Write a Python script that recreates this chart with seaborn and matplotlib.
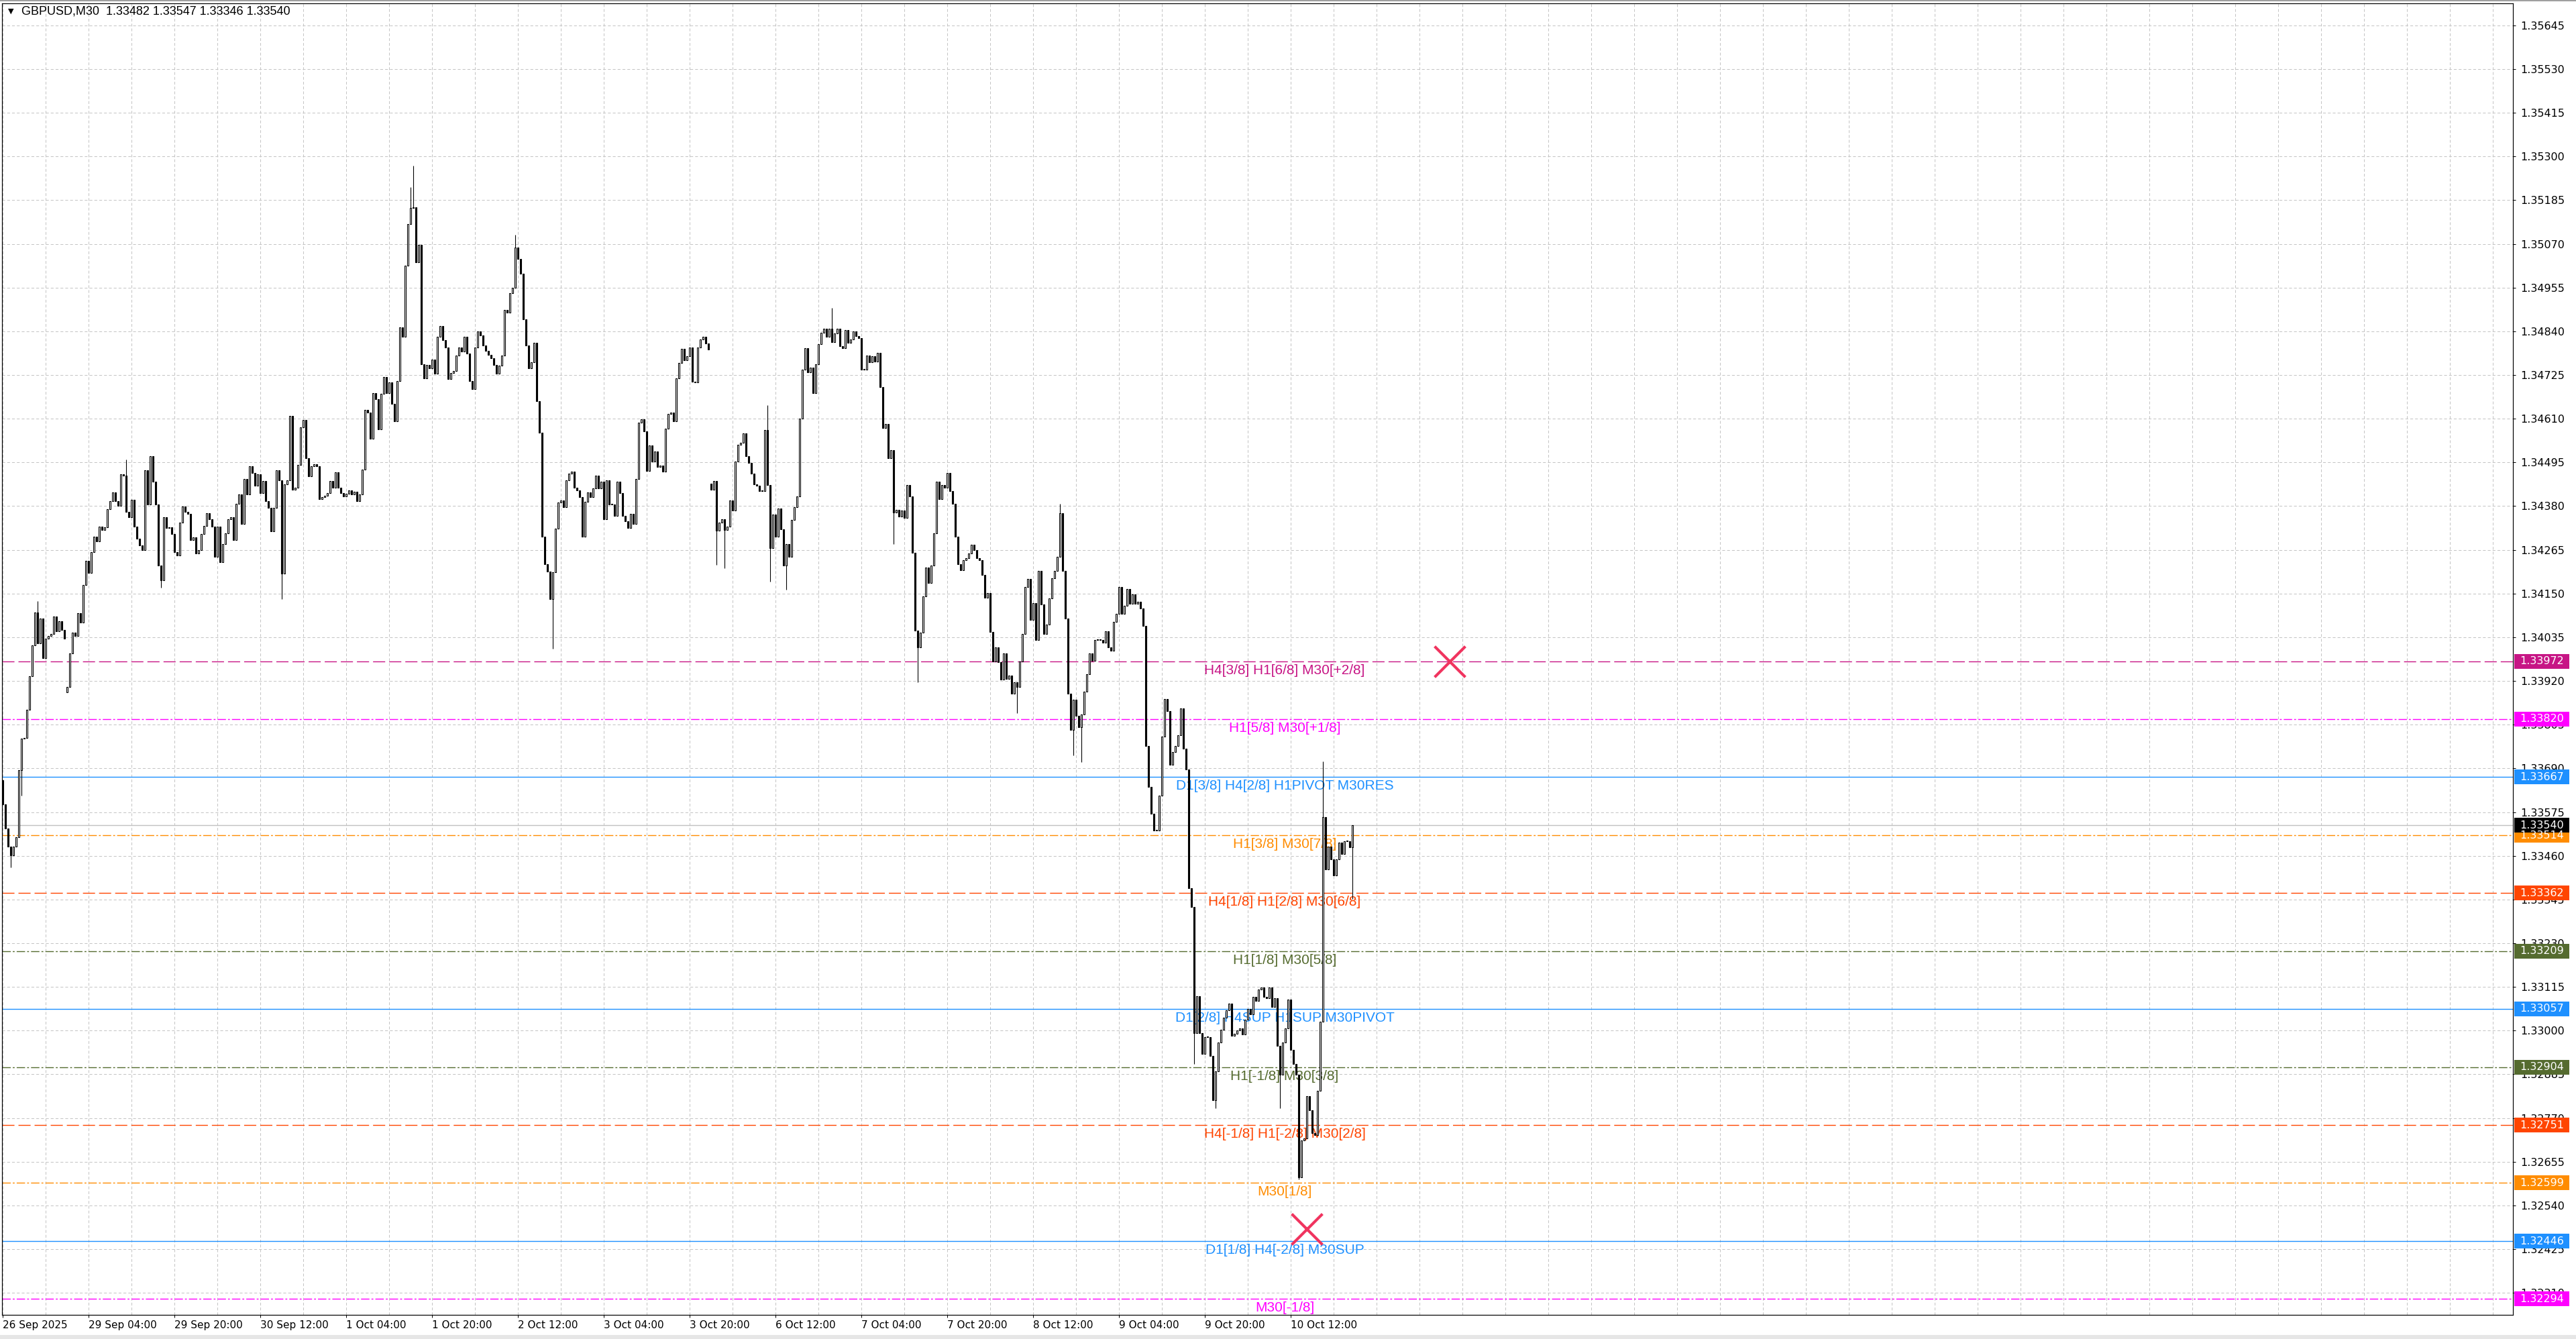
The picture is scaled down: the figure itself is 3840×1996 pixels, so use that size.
import numpy as np
import pandas as pd
import matplotlib
matplotlib.use('Agg')
import matplotlib.pyplot as plt
import seaborn as sns
from matplotlib.patches import Rectangle
from matplotlib.transforms import blended_transform_factory

sns.set_theme(style='white')
plt.rcParams['font.family'] = ['DejaVu Sans']
plt.rcParams['lines.scale_dashes'] = False

# ---- M30 closes, GBPUSD, 26 Sep 12:00 -> 10 Oct (one value per bar) ----
closes_26sep = [1.33595, 1.33532, 1.33485, 1.33461, 1.33485, 1.33508, 1.33685, 1.33768, 1.33770, 1.33845, 1.33933, 1.34014,
                1.34100, 1.34019, 1.34085, 1.33980, 1.34031, 1.34039, 1.34043, 1.34090, 1.34051, 1.34077, 1.34055, 1.34031]
closes_29sep = [1.33905, 1.33992, 1.34047, 1.34038, 1.34098, 1.34073, 1.34173, 1.34236, 1.34204, 1.34259, 1.34300, 1.34287,
                1.34326, 1.34318, 1.34324, 1.34372, 1.34394, 1.34416, 1.34393, 1.34381, 1.34464, 1.34460, 1.34365, 1.34350,
                1.34397, 1.34326, 1.34295, 1.34277, 1.34265, 1.34475, 1.34385, 1.34511, 1.34444, 1.34385, 1.34224, 1.34185,
                1.34350, 1.34322, 1.34324, 1.34306, 1.34259, 1.34251, 1.34336, 1.34379, 1.34365, 1.34359, 1.34291, 1.34298]
closes_30sep = [1.34255, 1.34265, 1.34306, 1.34328, 1.34361, 1.34346, 1.34326, 1.34247, 1.34326, 1.34232, 1.34280, 1.34309,
                1.34345, 1.34350, 1.34291, 1.34387, 1.34410, 1.34333, 1.34451, 1.34410, 1.34485, 1.34467, 1.34434, 1.34463,
                1.34414, 1.34447, 1.34394, 1.34376, 1.34313, 1.34376, 1.34475, 1.34448, 1.34203, 1.34438, 1.34448, 1.34618,
                1.34423, 1.34428, 1.34489, 1.34587, 1.34607, 1.34506, 1.34459, 1.34485, 1.34490, 1.34485, 1.34398, 1.34404]
closes_01oct = [1.34408, 1.34414, 1.34447, 1.34428, 1.34469, 1.34428, 1.34414, 1.34406, 1.34412, 1.34422, 1.34410, 1.34418,
                1.34393, 1.34410, 1.34477, 1.34633, 1.34626, 1.34558, 1.34677, 1.34662, 1.34582, 1.34676, 1.34719, 1.34677,
                1.34705, 1.34650, 1.34604, 1.34710, 1.34850, 1.34825, 1.35013, 1.35122, 1.35165, 1.35167, 1.35022, 1.35067,
                1.34754, 1.34717, 1.34751, 1.34742, 1.34766, 1.34728, 1.34825, 1.34854, 1.34817, 1.34797, 1.34715, 1.34731]
closes_02oct = [1.34735, 1.34776, 1.34797, 1.34787, 1.34825, 1.34781, 1.34709, 1.34688, 1.34798, 1.34839, 1.34830, 1.34803,
                1.34789, 1.34778, 1.34769, 1.34751, 1.34729, 1.34749, 1.34776, 1.34896, 1.34889, 1.34940, 1.34955, 1.35060,
                1.35030, 1.34992, 1.34872, 1.34803, 1.34742, 1.34759, 1.34810, 1.34656, 1.34573, 1.34299, 1.34228, 1.34207,
                1.34136, 1.34206, 1.34321, 1.34389, 1.34395, 1.34377, 1.34448, 1.34465, 1.34471, 1.34428, 1.34421, 1.34404]
closes_03oct = [1.34299, 1.34392, 1.34416, 1.34404, 1.34427, 1.34461, 1.34427, 1.34445, 1.34346, 1.34448, 1.34385, 1.34385,
                1.34354, 1.34444, 1.34414, 1.34354, 1.34340, 1.34322, 1.34360, 1.34333, 1.34452, 1.34600, 1.34609, 1.34577,
                1.34472, 1.34540, 1.34498, 1.34524, 1.34483, 1.34487, 1.34471, 1.34584, 1.34622, 1.34627, 1.34604, 1.34716,
                1.34757, 1.34794, 1.34764, 1.34775, 1.34797, 1.34708, 1.34706, 1.34797, 1.34818, 1.34826, 1.34808, 1.34793]
closes_06oct = [1.34423, 1.34446, 1.34315, 1.34337, 1.34346, 1.34317, 1.34326, 1.34395, 1.34369, 1.34498, 1.34542, 1.34547,
                1.34572, 1.34512, 1.34493, 1.34466, 1.34437, 1.34433, 1.34420, 1.34419, 1.34580, 1.34435, 1.34270, 1.34358,
                1.34300, 1.34373, 1.34319, 1.34224, 1.34280, 1.34247, 1.34343, 1.34377, 1.34405, 1.34610, 1.34740, 1.34796,
                1.34733, 1.34745, 1.34677, 1.34753, 1.34806, 1.34837, 1.34846, 1.34826, 1.34846, 1.34812, 1.34835, 1.34847]
closes_07oct = [1.34801, 1.34795, 1.34843, 1.34810, 1.34818, 1.34839, 1.34828, 1.34823, 1.34740, 1.34740, 1.34777, 1.34758,
                1.34775, 1.34760, 1.34784, 1.34694, 1.34586, 1.34596, 1.34506, 1.34527, 1.34364, 1.34371, 1.34353, 1.34368,
                1.34349, 1.34435, 1.34406, 1.34258, 1.34052, 1.34008, 1.34047, 1.34142, 1.34218, 1.34177, 1.34224, 1.34309,
                1.34444, 1.34399, 1.34436, 1.34429, 1.34467, 1.34419, 1.34387, 1.34299, 1.34228, 1.34211, 1.34238, 1.34243]
closes_08oct = [1.34255, 1.34279, 1.34265, 1.34243, 1.34238, 1.34199, 1.34139, 1.34151, 1.34049, 1.33971, 1.34008, 1.33969,
                1.33923, 1.33992, 1.33925, 1.33935, 1.33887, 1.33917, 1.33905, 1.33971, 1.34044, 1.34168, 1.34189, 1.34080,
                1.34125, 1.34027, 1.34209, 1.34122, 1.34044, 1.34069, 1.34137, 1.34191, 1.34209, 1.34246, 1.34361, 1.34209,
                1.34084, 1.33886, 1.33791, 1.33871, 1.33829, 1.33798, 1.33831, 1.33892, 1.33938, 1.33993, 1.33973, 1.34028]
closes_09oct = [1.34028, 1.34027, 1.34020, 1.34051, 1.34008, 1.33999, 1.34076, 1.34096, 1.34167, 1.34096, 1.34118, 1.34162,
                1.34124, 1.34148, 1.34123, 1.34128, 1.34110, 1.34065, 1.33749, 1.33641, 1.33571, 1.33527, 1.33527, 1.33618,
                1.33774, 1.33873, 1.33840, 1.33700, 1.33733, 1.33749, 1.33777, 1.33847, 1.33742, 1.33688, 1.33375, 1.33326,
                1.32994, 1.33090, 1.32994, 1.32938, 1.32982, 1.32982, 1.32933, 1.32817, 1.32893, 1.32968, 1.33003, 1.33034]
closes_10oct = [1.33054, 1.33071, 1.32987, 1.32992, 1.33001, 1.33006, 1.32989, 1.33029, 1.33057, 1.33043, 1.33088, 1.33079,
                1.33108, 1.33113, 1.33088, 1.33085, 1.33113, 1.33062, 1.33085, 1.32959, 1.32884, 1.32968, 1.33006, 1.33082,
                1.32950, 1.32912, 1.32884, 1.32613, 1.32711, 1.32716, 1.32828, 1.32791, 1.32730, 1.32725, 1.32842, 1.33024,
                1.33562, 1.33424, 1.33484, 1.33450, 1.33408, 1.33450, 1.33494, 1.33464, 1.33499, 1.33499, 1.33482, 1.33540]

first_open = 1.33658
gap_open_bars = [24, 264]          # Monday opens after the weekends
gap_open_prices = [1.33890, 1.34439]

# the longest shadows (bar index, extreme price reached by the wick)
wick_bars = [3, 7, 13, 24, 46, 59, 104, 152, 153, 191, 205, 266, 269, 285, 286, 292, 309, 332,
             341, 378, 394, 399, 402, 444, 452, 476, 483, 492, 503]
wick_prices = [1.33430, 1.33618, 1.34130, 1.33894, 1.34503, 1.34165, 1.34135, 1.35220, 1.35275, 1.35094,
               1.34005, 1.34226, 1.34216, 1.34645, 1.34182, 1.34161, 1.34902, 1.34280, 1.33917, 1.33835,
               1.34387, 1.33724, 1.33707, 1.32912, 1.32795, 1.32795, 1.32608, 1.33709, 1.33346]

last_ohlc = ['1.33482', '1.33547', '1.33346', '1.33540']

# Murrey-style levels drawn by the indicator
level_prices = [1.33972, 1.33820, 1.33667, 1.33514, 1.33362, 1.33209, 1.33057,
                1.32904, 1.32751, 1.32599, 1.32446, 1.32294]
level_names = ['H4[3/8] H1[6/8] M30[+2/8]', 'H1[5/8] M30[+1/8]', 'D1[3/8] H4[2/8] H1PIVOT M30RES',
               'H1[3/8] M30[7/8]', 'H4[1/8] H1[2/8] M30[6/8]', 'H1[1/8] M30[5/8]',
               'D1[2/8] H4SUP H1SUP M30PIVOT', 'H1[-1/8] M30[3/8]', 'H4[-1/8] H1[-2/8] M30[2/8]',
               'M30[1/8]', 'D1[1/8] H4[-2/8] M30SUP', 'M30[-1/8]']
level_kinds = ['plus', 'plus1', 'pivot', 'orange', 'red', 'olive', 'pivot', 'olive', 'red', 'orange', 'pivot', 'plus1']

current_price = 1.33540

# cross markers (bar index, price)
cross_bars = [539.25, 486.0]
cross_prices = [1.33972, 1.32478]

# axis ticks
price_ticks = [1.35645, 1.35530, 1.35415, 1.35300, 1.35185, 1.35070, 1.34955, 1.34840, 1.34725, 1.34610,
               1.34495, 1.34380, 1.34265, 1.34150, 1.34035, 1.33920, 1.33805, 1.33690, 1.33575, 1.33460,
               1.33345, 1.33230, 1.33115, 1.33000, 1.32885, 1.32770, 1.32655, 1.32540, 1.32425, 1.32310]
time_labels = ['26 Sep 2025', '29 Sep 04:00', '29 Sep 20:00', '30 Sep 12:00', '1 Oct 04:00', '1 Oct 20:00',
               '2 Oct 12:00', '3 Oct 04:00', '3 Oct 20:00', '6 Oct 12:00', '7 Oct 04:00', '7 Oct 20:00',
               '8 Oct 12:00', '9 Oct 04:00', '9 Oct 20:00', '10 Oct 12:00']

# ---- styles ----
kind_style = {
    'plus':   ('#C71585', (0, (13, 4.3))),
    'plus1':  ('#FF00FF', (0, (9, 2.2, 2, 2.2))),
    'pivot':  ('#1E90FF', '-'),
    'orange': ('#FF8C00', (0, (9, 2.2, 2, 2.2))),
    'red':    ('#FF4500', (0, (13, 4.3))),
    'olive':  ('#556B2F', (0, (9, 2.2, 2, 2.2))),
}
GRID = '#C4C4C4'
W, H = 3840, 1996
PX = 72 / 100  # one pixel in points

# ---- build the bar table ----
closes = (closes_26sep + closes_29sep + closes_30sep + closes_01oct + closes_02oct + closes_03oct
          + closes_06oct + closes_07oct + closes_08oct + closes_09oct + closes_10oct)
opens = [first_open] + closes[:-1]
for b, p in zip(gap_open_bars, gap_open_prices):
    opens[b] = p
bars = pd.DataFrame({'bar': np.arange(len(closes)), 'open': opens, 'close': closes})
bars['lo'] = bars[['open', 'close']].min(axis=1)
bars['hi'] = bars[['open', 'close']].max(axis=1)
bars['h'] = (bars['close'] - bars['open']).abs().clip(lower=0.000018)
up = bars['close'] >= bars['open']

wicks = pd.DataFrame({'bar': wick_bars, 'end': wick_prices})
wicks = wicks.merge(bars[['bar', 'lo', 'hi']], on='bar')
wicks['y0'] = np.minimum(wicks['end'], wicks['lo'])
wicks['y1'] = np.maximum(wicks['end'], wicks['hi'])

fig = plt.figure(figsize=(W / 100, H / 100), dpi=100)
fig.patch.set_facecolor('white')
ax = fig.add_axes([3 / W, 1 - 1960 / H, 3743 / W, 1955 / H])
ax.set_facecolor('white')

# level lines and their labels (under the candles)
label_bar = 477.75
for p, name, kind in zip(level_prices, level_names, level_kinds):
    col, ls = kind_style[kind]
    ax.axhline(p, color=col, lw=1.0, linestyle=ls, zorder=2)
    ax.annotate(name, xy=(label_bar, p), xytext=(0, -4), textcoords='offset pixels',
                ha='center', va='top', color=col, fontsize=15, family=['Liberation Sans', 'DejaVu Sans'],
                zorder=3)
ax.axhline(current_price, color='#C0C0C0', lw=1.0, zorder=2)

# candles: shadows, then bodies
ax.vlines(wicks['bar'], wicks['y0'], wicks['y1'], color='black', lw=PX * 1.1, zorder=4)
ax.bar(bars.loc[up, 'bar'], bars.loc[up, 'h'], bottom=bars.loc[up, 'lo'], width=0.55,
       color='white', edgecolor='black', linewidth=PX * 1.1, zorder=5)
ax.bar(bars.loc[~up, 'bar'], bars.loc[~up, 'h'], bottom=bars.loc[~up, 'lo'], width=0.55,
       color='black', edgecolor='black', linewidth=PX * 1.1, zorder=5)

# cross markers
sns.scatterplot(x=cross_bars, y=cross_prices, marker='x', s=33 ** 2, color='#F0345F',
                linewidth=3.0, ax=ax, legend=False, zorder=7)

# axes limits / ticks
ax.set_xlim(-0.25, 935.5)
ax.set_ylim(1.32252, 1.35703)
ax.set_xlabel('')
ax.set_ylabel('')

label_bars = [32 * k for k in range(len(time_labels))]
ax.set_xticks(label_bars)
ax.set_xticklabels(time_labels, ha='left', fontsize=11)
ax.set_xticks(list(range(16, 936, 16)), minor=True)
ax.tick_params(axis='x', which='major', direction='out', length=4 * PX, width=PX, pad=3, colors='black',
               bottom=True)
ax.tick_params(axis='x', which='minor', length=0)
for lab in ax.get_xticklabels():
    lab.set_horizontalalignment('left')

ax.yaxis.tick_right()
ax.set_yticks(price_ticks)
ax.set_yticklabels([f'{t:.5f}' for t in price_ticks], fontsize=11.5)
ax.tick_params(axis='y', which='major', direction='out', length=4 * PX, width=PX, pad=5, colors='black',
               right=True, left=False)

ax.grid(True, which='both', axis='x', color=GRID, lw=PX, linestyle=(0, (3, 2.2)), zorder=0)
ax.grid(True, which='major', axis='y', color=GRID, lw=PX, linestyle=(0, (3, 2.2)), zorder=0)
ax.set_axisbelow(True)

for sp in ax.spines.values():
    sp.set_visible(True)
    sp.set_color('black')
    sp.set_linewidth(PX * 1.2)

# price tags on the right scale
trans = blended_transform_factory(ax.transAxes, ax.transData)
tag_w = 82 / 3743
tag_h = 22 / 56650
tag_prices = level_prices + [current_price]
tag_colors = [kind_style[k][0] for k in level_kinds] + ['black']
for p, col in zip(tag_prices, tag_colors):
    ax.add_patch(Rectangle((1 + 2 / 3743, p - tag_h / 2), tag_w, tag_h, transform=trans,
                           facecolor=col, edgecolor='none', clip_on=False, zorder=8))
    ax.text(1 + 10 / 3743, p, f'{p:.5f}', transform=trans, ha='left', va='center', color='white',
            fontsize=11.5, clip_on=False, zorder=9)

# header
fig.text(12 / W, 1 - 17 / H, '\u25BC', fontsize=8, color='black', va='center', ha='left',
         family='DejaVu Sans')
fig.text(32 / W, 1 - 17 / H, 'GBPUSD,M30  ' + ' '.join(last_ohlc), fontsize=13, color='black',
         va='center', ha='left', family=['Liberation Sans', 'DejaVu Sans'])

# window edges
fig.patches.append(Rectangle((0, 1 - 2 / H), 1, 2 / H, transform=fig.transFigure,
                             facecolor='#A0A0A0', edgecolor='none'))
fig.patches.append(Rectangle((0, 0), 1, 6 / H, transform=fig.transFigure,
                             facecolor='#E6E6E6', edgecolor='none'))

fig.savefig('out.png', dpi=100, facecolor='white')
